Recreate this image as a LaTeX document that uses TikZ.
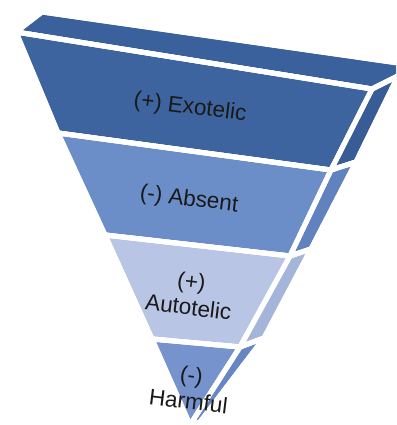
\documentclass[tikz,border=0pt]{standalone}
\usepackage{fontspec}
\setmainfont{Liberation Sans}
\definecolor{exoFront}{RGB}{61,100,159}
\definecolor{exoSide}{RGB}{56,93,150}
\definecolor{exoTop}{RGB}{58,97,156}
\definecolor{absFront}{RGB}{108,142,200}
\definecolor{absSide}{RGB}{96,130,190}
\definecolor{autFront}{RGB}{184,197,228}
\definecolor{autSide}{RGB}{165,181,218}
\definecolor{harFront}{RGB}{118,147,205}
\definecolor{harSide}{RGB}{104,134,196}
\tikzstyle{face} = [draw=white, line width=5pt, line join=round]
\tikzstyle{tier} = [text=black!90, font=\fontsize{22.5}{26}\selectfont, align=center, rotate=-7, inner sep=0pt]

\begin{document}
\begin{tikzpicture}[x=1pt, y=-1pt]
		\useasboundingbox (0,0) rectangle (396,425);
		\clip (0,0) rectangle (396,425);
		% corner points of the pyramid
		\coordinate (k) at (42,12);
		\coordinate (c) at (419,66);
		\coordinate (f0) at (16,32);
		\coordinate (r0) at (372,89);
		\coordinate (b0) at (398,76);
		\coordinate (l1) at (58,133);
		\coordinate (r1) at (331,170);
		\coordinate (b1) at (356,162);
		\coordinate (l2) at (105,235);
		\coordinate (r2) at (290,256);
		\coordinate (b2) at (311,249);
		\coordinate (l3) at (152,339);
		\coordinate (r3) at (240,347);
		\coordinate (b3) at (264,338);
		\coordinate (tip) at (200,422);
		\coordinate (apex) at (190,425);
		% top
		\fill [face, fill=exoTop] (f0) -- (k) -- (c) -- (b0) -- (r0) -- cycle;
		% layers
		\fill [face, fill=exoFront] (f0) -- (r0) -- (r1) -- (l1) -- cycle;
		\fill [face, fill=exoSide] (r0) -- (b0) -- (b1) -- (r1) -- cycle;
		\fill [face, fill=absFront] (l1) -- (r1) -- (r2) -- (l2) -- cycle;
		\fill [face, fill=absSide] (r1) -- (b1) -- (b2) -- (r2) -- cycle;
		\fill [face, fill=autFront] (l2) -- (r2) -- (r3) -- (l3) -- cycle;
		\fill [face, fill=autSide] (r2) -- (b2) -- (b3) -- (r3) -- cycle;
		\fill [face, fill=harFront] (l3) -- (r3) -- (apex) -- cycle;
		\fill [face, fill=harSide] (r3) -- (b3) -- (tip) -- (apex) -- cycle;
		\draw [face] (f0) -- (k) -- (c) -- (b0) -- (r0) -- cycle;
		\draw [face] (f0) -- (r0) -- (r1) -- (l1) -- cycle;
		\draw [face] (r0) -- (b0) -- (b1) -- (r1);
		\draw [face] (l1) -- (r1) -- (r2) -- (l2) -- cycle;
		\draw [face] (r1) -- (b1) -- (b2) -- (r2);
		\draw [face] (l2) -- (r2) -- (r3) -- (l3) -- cycle;
		\draw [face] (r2) -- (b2) -- (b3) -- (r3);
		\draw [face] (l3) -- (r3) -- (apex) -- cycle;
		\draw [face] (r3) -- (b3) -- (tip) -- (apex);
		% labels
		\node (exo) [tier] at (190,108) {(+) Exotelic};
		\node (abs) [tier] at (189,200) {(-) Absent};
		\node (aut) [tier] at (190,294) {(+)\\Autotelic};
		\node (har) [tier] at (190,388) {(-)\\Harmful};
	\end{tikzpicture}
\end{document}
